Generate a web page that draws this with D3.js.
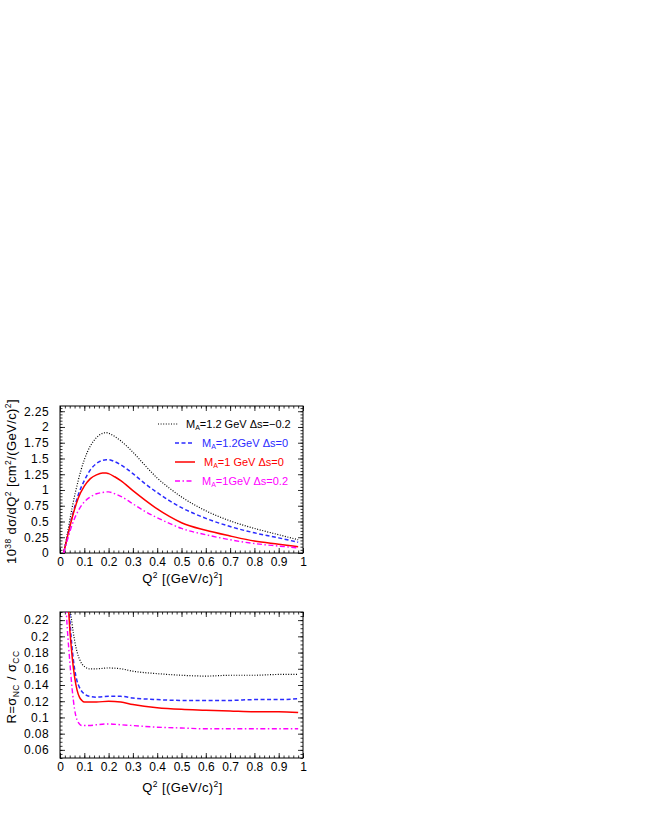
<!DOCTYPE html>
<html>
<head>
<meta charset="utf-8">
<script src="https://cdn.jsdelivr.net/npm/d3@7"></script>
<style>
  body { margin: 0; background: #fff; }
  svg { display: block; }
  text { font-family: "Liberation Sans", Arial, sans-serif; }
</style>
</head>
<body>
<svg id="chart" width="654" height="817"></svg>
<script>
// Q^2 grid for the cross-section panel
const q2Top = [0.015, 0.03, 0.05, 0.075, 0.1, 0.125, 0.15, 0.175, 0.19, 0.2, 0.225, 0.25,
               0.3, 0.35, 0.4, 0.45, 0.5, 0.6, 0.7, 0.8, 0.9, 0.98];
const sigmaMa12DsM02 = [0, 0.30, 0.72, 1.15, 1.48, 1.70, 1.83, 1.90, 1.91, 1.90, 1.85, 1.78,
                        1.60, 1.39, 1.19, 1.03, 0.89, 0.67, 0.51, 0.39, 0.29, 0.21];
const sigmaMa12Ds0   = [0, 0.25, 0.58, 0.92, 1.15, 1.32, 1.42, 1.47, 1.48, 1.48, 1.45, 1.40,
                        1.26, 1.10, 0.96, 0.83, 0.72, 0.55, 0.42, 0.32, 0.24, 0.17];
const sigmaMa1Ds0    = [0, 0.25, 0.56, 0.87, 1.06, 1.18, 1.24, 1.27, 1.27, 1.26, 1.21, 1.15,
                        0.99, 0.84, 0.70, 0.58, 0.48, 0.36, 0.27, 0.19, 0.14, 0.10];
const sigmaMa1DsP02  = [0, 0.20, 0.45, 0.67, 0.81, 0.89, 0.94, 0.96, 0.97, 0.97, 0.94, 0.90,
                        0.78, 0.66, 0.56, 0.47, 0.39, 0.29, 0.21, 0.15, 0.11, 0.08];

// Q^2 grid for the NC/CC ratio panel
const q2Bot = [0.025, 0.03, 0.04, 0.05, 0.06, 0.07, 0.08, 0.09, 0.1, 0.12, 0.15, 0.2, 0.25,
               0.3, 0.4, 0.5, 0.6, 0.7, 0.8, 0.9, 0.98];
const ratioMa12DsM02 = [0.50, 0.40, 0.245, 0.215, 0.195, 0.181, 0.172, 0.166, 0.163, 0.160, 0.160,
                        0.161, 0.160, 0.157, 0.154, 0.152, 0.151, 0.152, 0.152, 0.153, 0.153];
const ratioMa12Ds0   = [0.34, 0.30, 0.225, 0.185, 0.160, 0.145, 0.137, 0.132, 0.129, 0.126, 0.125,
                        0.126, 0.126, 0.124, 0.122, 0.121, 0.121, 0.121, 0.122, 0.122, 0.123];
const ratioMa1Ds0    = [0.29, 0.26, 0.21, 0.175, 0.150, 0.134, 0.125, 0.121, 0.119, 0.119, 0.119,
                        0.120, 0.119, 0.116, 0.112, 0.110, 0.109, 0.108, 0.107, 0.107, 0.106];
const ratioMa1DsP02  = [0.235, 0.21, 0.17, 0.135, 0.110, 0.097, 0.092, 0.090, 0.090, 0.090, 0.091,
                        0.092, 0.091, 0.090, 0.088, 0.087, 0.086, 0.086, 0.086, 0.086, 0.086];

const xTicks = d3.range(0, 11).map(i => i / 10);
const yTicksTop = d3.range(0, 10).map(i => i * 0.25);
const yTicksBot = d3.range(3, 12).map(i => i * 0.02);

const legendLabels = [
  ["M", "A", "=1.2 GeV \u0394s=\u22120.2"],
  ["M", "A", "=1.2GeV \u0394s=0"],
  ["M", "A", "=1 GeV \u0394s=0"],
  ["M", "A", "=1GeV \u0394s=0.2"]
];

const styles = [
  {color: "#000000", dash: "1,1.6", width: 1.2},
  {color: "#2a2aff", dash: "4,2.5", width: 1.5},
  {color: "#ff0000", dash: null, width: 1.5},
  {color: "#ff00ff", dash: "5,2.5,1.5,2.5", width: 1.4}
];

const svg = d3.select("#chart");
svg.append("rect").attr("width", 654).attr("height", 817).attr("fill", "#fff");

const left = 60, right = 303;
const x = d3.scaleLinear().domain([0, 1]).range([left, right]);

// title pieces: [text, "sup" | "sub" | undefined]
function richText(sel, parts, small, shift) {
  parts.forEach(([txt, mode], i) => {
    const t = sel.append("tspan").text(txt);
    const prev = i > 0 ? parts[i - 1][1] : undefined;
    if (mode) {
      t.attr("font-size", small).attr("dy", mode === "sup" ? -shift : shift * 0.6);
    } else if (prev) {
      t.attr("dy", prev === "sup" ? shift : -shift * 0.6);
    }
  });
}

function drawPanel(cfg) {
  const y = d3.scaleLinear().domain(cfg.yDomain).range([cfg.bottom, cfg.top]);
  const g = svg.append("g");
  const fmt = d3.format("~g");

  const clipId = "clip" + cfg.id;
  svg.append("clipPath").attr("id", clipId)
    .append("rect")
    .attr("x", left).attr("y", cfg.top)
    .attr("width", right - left).attr("height", cfg.bottom - cfg.top);

  // minor ticks
  const xMinor = d3.range(0, 51).map(i => i / 50);
  const yMinor = d3.range(Math.round(cfg.yDomain[0] / cfg.yMinorStep),
                          Math.floor(cfg.yDomain[1] / cfg.yMinorStep + 1e-6) + 1)
                   .map(i => i * cfg.yMinorStep);

  const axes = [
    [d3.axisBottom(x), cfg.bottom, "x"],
    [d3.axisTop(x), cfg.top, "x"],
    [d3.axisLeft(y), left, "y"],
    [d3.axisRight(y), right, "y"]
  ];
  axes.forEach(([ax, pos, dir]) => {
    const gm = g.append("g")
      .attr("transform", dir === "x" ? `translate(0,${pos})` : `translate(${pos},0)`);
    gm.call(ax.tickValues(dir === "x" ? xMinor : yMinor).tickSize(-2.5).tickFormat(""));
    gm.select(".domain").remove();
  });

  // major ticks, labels on bottom/left only
  const xb = g.append("g").attr("transform", `translate(0,${cfg.bottom})`)
    .call(d3.axisBottom(x).tickValues(xTicks).tickSize(-5).tickPadding(4).tickFormat(fmt));
  const xt = g.append("g").attr("transform", `translate(0,${cfg.top})`)
    .call(d3.axisTop(x).tickValues(xTicks).tickSize(-5).tickFormat(""));
  const yl = g.append("g").attr("transform", `translate(${left},0)`)
    .call(d3.axisLeft(y).tickValues(cfg.yTicks).tickSize(-5).tickPadding(11).tickFormat(fmt));
  const yr = g.append("g").attr("transform", `translate(${right},0)`)
    .call(d3.axisRight(y).tickValues(cfg.yTicks).tickSize(-5).tickFormat(""));
  [xb, xt, yl, yr].forEach(a => a.select(".domain").remove());
  g.selectAll(".tick line").attr("stroke", "#000").attr("stroke-width", 0.8);
  g.selectAll(".tick text").attr("font-size", 12).attr("fill", "#000")
    .attr("font-family", "Liberation Sans, Arial, sans-serif");
  yl.selectAll(".tick text").attr("letter-spacing", 0.4);

  // frame
  g.append("rect")
    .attr("x", left).attr("y", cfg.top)
    .attr("width", right - left).attr("height", cfg.bottom - cfg.top)
    .attr("fill", "none").attr("stroke", "#000").attr("stroke-width", 1);

  // curves
  const line = d3.line()
    .x((d, i) => x(cfg.q2[i]))
    .y(d => y(d))
    .curve(d3.curveMonotoneX);
  const lines = svg.append("g").attr("clip-path", `url(#${clipId})`);
  cfg.series.forEach((s, i) => {
    lines.append("path")
      .attr("d", line(s))
      .attr("fill", "none")
      .attr("stroke", styles[i].color)
      .attr("stroke-width", styles[i].width)
      .attr("stroke-dasharray", styles[i].dash);
  });

  // x title
  const xt2 = svg.append("text")
    .attr("x", (left + right) / 2 + 1).attr("y", cfg.bottom + cfg.xTitleOffset)
    .attr("text-anchor", "middle").attr("font-size", 13).attr("letter-spacing", 0.4);
  richText(xt2, [["Q"], ["2", "sup"], [" [(GeV/c)"], ["2", "sup"], ["]"]], 8.5, 5);

  return y;
}

drawPanel({
  id: "top", top: 406, bottom: 553, yDomain: [0, 2.333], yTicks: yTicksTop, yMinorStep: 0.05,
  q2: q2Top, series: [sigmaMa12DsM02, sigmaMa12Ds0, sigmaMa1Ds0, sigmaMa1DsP02], xTitleOffset: 30
});
drawPanel({
  id: "bot", top: 612, bottom: 758, yDomain: [0.05, 0.23], yTicks: yTicksBot, yMinorStep: 0.005,
  q2: q2Bot, series: [ratioMa12DsM02, ratioMa12Ds0, ratioMa1Ds0, ratioMa1DsP02], xTitleOffset: 34
});

// y titles
const yt1 = svg.append("text")
  .attr("transform", `translate(16,${(406 + 553) / 2 + 2}) rotate(-90)`)
  .attr("text-anchor", "middle").attr("font-size", 13).attr("letter-spacing", 0.4);
richText(yt1, [["10"], ["38", "sup"], [" d\u03c3/dQ"], ["2", "sup"], [" [cm"], ["2", "sup"],
               ["/(GeV/c)"], ["2", "sup"], ["]"]], 8.5, 5);

const yt2 = svg.append("text")
  .attr("transform", `translate(16,${(612 + 758) / 2 + 2}) rotate(-90)`)
  .attr("text-anchor", "middle").attr("font-size", 13).attr("letter-spacing", 0.4);
richText(yt2, [["R=\u03c3"], ["NC", "sub"], [" / \u03c3"], ["CC", "sub"]], 8.5, 5);

// legend
const legendRows = [424, 443, 462, 481];
const legendLineX = [[158, 178], [175, 193], [175, 195], [175, 193]];
const legendTextX = [186, 202, 204, 202];
legendLabels.forEach((lab, i) => {
  const st = styles[i];
  svg.append("line")
    .attr("x1", legendLineX[i][0]).attr("x2", legendLineX[i][1])
    .attr("y1", legendRows[i]).attr("y2", legendRows[i])
    .attr("stroke", st.color).attr("stroke-width", st.width)
    .attr("stroke-dasharray", st.dash);
  const t = svg.append("text")
    .attr("x", legendTextX[i]).attr("y", legendRows[i] + 4)
    .attr("font-size", 11).attr("fill", st.color);
  t.append("tspan").text(lab[0]);
  t.append("tspan").attr("font-size", 7).attr("dy", 2).text(lab[1]);
  t.append("tspan").attr("dy", -2).text(lab[2]);
});
</script>
</body>
</html>
